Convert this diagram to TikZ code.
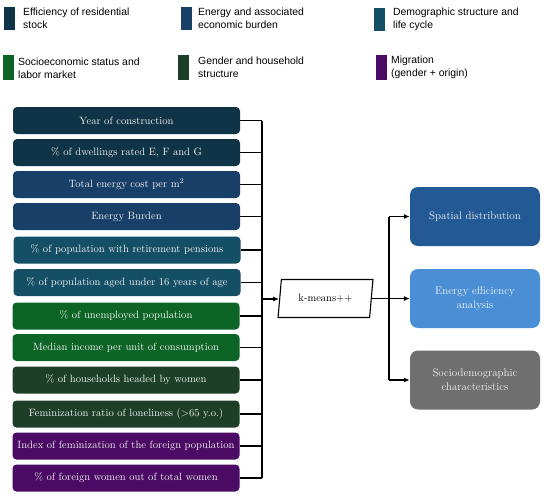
\documentclass[tikz,border=0pt]{standalone}
\usepackage{fontspec}
\newfontfamily\legfont{Liberation Sans}
\usetikzlibrary{shapes.geometric,arrows.meta}
\definecolor{cEff}{HTML}{0F3347}
\definecolor{cEne}{HTML}{173F68}
\definecolor{cDem}{HTML}{144F66}
\definecolor{cSoc}{HTML}{0C6426}
\definecolor{cGen}{HTML}{1D3F27}
\definecolor{cMig}{HTML}{4B0A63}
\definecolor{cSpa}{HTML}{235A96}
\definecolor{cEEA}{HTML}{4A8FD5}
\definecolor{cSdc}{HTML}{6F6F6F}
\definecolor{txtw}{HTML}{F2F2F2}
\begin{document}
\begin{tikzpicture}[x=1pt,y=-1pt,
  legsq/.style={fill=#1, draw=none, minimum width=11pt, minimum height=23pt, inner sep=0pt},
  legtxt/.style={anchor=west, align=left, inner sep=0pt, font=\legfont\fontsize{10.4}{13}\selectfont, text=black},
  var/.style={rounded corners=4pt, fill=#1, draw=none, text=txtw, minimum width=227pt, minimum height=27pt, inner sep=0pt, font=\fontsize{10.6}{12}\selectfont},
  outbox/.style={rounded corners=8pt, fill=#1, draw=none, text=txtw, minimum width=130pt, minimum height=59pt, inner sep=0pt, align=center, font=\fontsize{11}{14}\selectfont},
  conn/.style={line width=1.3pt, draw=black},
  arr/.style={conn, -{Latex[length=6pt,width=5pt]}},
  ]
\useasboundingbox (0,0) rectangle (550,499);

% legend
\node[legsq=cEff] (l1) at (9.5,18.5) {};
\node[legtxt] (t1) at (23,18.5) {Efficiency of residential\\stock};
\node[legsq=cEne] (l2) at (186.5,18.5) {};
\node[legtxt] (t2) at (198,18) {Energy and associated\\economic burden};
\node[legsq=cDem] (l3) at (379.5,19) {};
\node[legtxt] (t3) at (393,19) {Demographic structure and\\life cycle};
\node[legsq=cSoc, minimum height=25pt] (l4) at (8,67.5) {};
\node[legtxt] (t4) at (18,68) {Socioeconomic status and\\labor market};
\node[legsq=cGen, minimum height=25pt] (l5) at (183.5,67.5) {};
\node[legtxt] (t5) at (198,67.5) {Gender and household\\structure};
\node[legsq=cMig, minimum height=25pt] (l6) at (381,67.5) {};
\node[legtxt] (t6) at (391,67.5) {Migration\\(gender + origin)};

% variable boxes
\node[var=cEff] (b1) at (126.5,120.5) {Year of construction};
\node[var=cEff] (b2) at (126.5,152.5) {\% of dwellings rated E, F and G};
\node[var=cEne] (b3) at (126.5,184.5) {Total energy cost per m\textsuperscript{2}};
\node[var=cEne] (b4) at (126.5,216.5) {Energy Burden};
\node[var=cDem] (b5) at (127,250) {\% of population with retirement pensions};
\node[var=cDem] (b6) at (127,282.5) {\% of population aged under 16 years of age};
\node[var=cSoc] (b7) at (126,316) {\% of unemployed population};
\node[var=cSoc] (b8) at (126,347.5) {Median income per unit of consumption};
\node[var=cGen] (b9) at (126,380) {\% of households headed by women};
\node[var=cGen] (b10) at (126,414) {Feminization ratio of loneliness (>65 y.o.)};
\node[var=cMig] (b11) at (126,446) {Index of feminization of the foreign population};
\node[var=cMig] (b12) at (126,478) {\% of foreign women out of total women};

% bus
\coordinate (bus) at (262,299);
\foreach \i in {1,...,12} {
  \draw[conn] (b\i.east) -- (b\i.east -| bus);
}
\draw[conn] (b1.east -| bus) -- (b12.east -| bus);

% k-means
\node[trapezium, trapezium left angle=76, trapezium right angle=104, trapezium stretches=true,
      draw=black, line width=1.1pt, fill=white, minimum width=95pt, minimum height=38pt, inner sep=0pt,
      font=\fontsize{10.5}{12}\selectfont] (km) at (325.5,298.5) {k-means++};
\draw[arr] (bus) -- (bus -| km.west);

% outputs
\node[outbox=cSpa] (sp) at (475,216.5) {Spatial distribution};
\node[outbox=cEEA] (ee) at (475,298.5) {Energy efficiency\\analysis};
\node[outbox=cSdc] (sd) at (475,380) {Sociodemographic\\characteristics};

\coordinate (split) at (389,298.5);
\draw[conn] (km.east |- split) -- (split);
\draw[arr] (split) -- (ee.west);
\draw[conn] (split |- sp.west) -- (split |- sd.west);
\draw[arr] (split |- sp.west) -- (sp.west);
\draw[arr] (split |- sd.west) -- (sd.west);
\end{tikzpicture}
\end{document}
